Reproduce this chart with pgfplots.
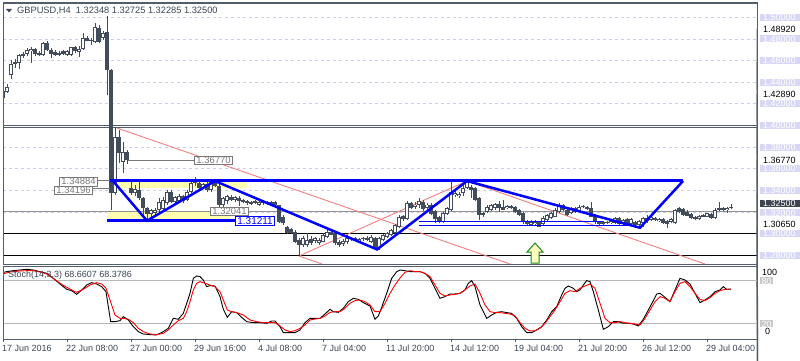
\documentclass[border=0pt]{standalone}
\usepackage{pgfplots}
\pgfplotsset{compat=1.18}
\usepackage{pgfplotstable}
\usepackage{fontspec}
\setmainfont{Liberation Sans}
\definecolor{frame}{RGB}{84,94,106}
\definecolor{candle}{RGB}{66,76,90}
\definecolor{lav}{RGB}{216,216,246}
\definecolor{lavgrid}{RGB}{205,205,240}
\definecolor{salmon}{RGB}{240,128,128}
\definecolor{paleyel}{RGB}{255,255,176}
\definecolor{txt}{RGB}{60,70,84}
\definecolor{lvl}{RGB}{185,185,185}
\definecolor{pbox}{RGB}{60,68,80}
\definecolor{lblgray}{RGB}{120,120,120}
\definecolor{arrowgreen}{RGB}{30,140,30}
\definecolor{lvlbox}{RGB}{200,200,200}
\newcommand\f{\fontsize{9}{10}\selectfont}

\pgfplotstableread{
i o h l c
0 1.4258 1.4341 1.4243 1.4319
1 1.4310 1.4380 1.4304 1.4359
2 1.4463 1.4609 1.4426 1.4570
3 1.4570 1.4615 1.4533 1.4588
4 1.4579 1.4664 1.4524 1.4649
5 1.4661 1.4676 1.4624 1.4640
6 1.4661 1.4716 1.4640 1.4701
7 1.4686 1.4725 1.4579 1.4707
8 1.4707 1.4716 1.4640 1.4661
9 1.4670 1.4686 1.4640 1.4655
10 1.4655 1.4768 1.4646 1.4762
11 1.4762 1.4783 1.4686 1.4695
12 1.4695 1.4716 1.4624 1.4661
13 1.4676 1.4695 1.4640 1.4655
14 1.4655 1.4686 1.4640 1.4670
15 1.4686 1.4695 1.4655 1.4664
16 1.4655 1.4701 1.4640 1.4686
17 1.4655 1.4722 1.4640 1.4722
18 1.4722 1.4737 1.4670 1.4686
19 1.4676 1.4731 1.4634 1.4707
20 1.4707 1.4853 1.4701 1.4808
21 1.4808 1.4823 1.4777 1.4783
22 1.4792 1.4808 1.4747 1.4777
23 1.4769 1.4945 1.4762 1.4908
24 1.4899 1.4930 1.4760 1.4775
25 1.4806 1.4869 1.4790 1.4858
26 1.4860 1.5012 1.4282 1.4513
27 1.4513 1.4520 1.3222 1.3379
28 1.3379 1.3989 1.3360 1.3897
29 1.3897 1.3958 1.3651 1.3743
30 1.3665 1.3850 1.3558 1.3758
31 1.3758 1.3770 1.3640 1.3677
32 1.3420 1.3481 1.3358 1.3373
33 1.3373 1.3450 1.3350 1.3410
34 1.3404 1.3481 1.3312 1.3327
35 1.3327 1.3342 1.3173 1.3235
36 1.3235 1.3250 1.3121 1.3180
37 1.3178 1.3230 1.3150 1.3215
38 1.3190 1.3235 1.3170 1.3220
39 1.3220 1.3327 1.3200 1.3296
40 1.3230 1.3336 1.3215 1.3310
41 1.3281 1.3404 1.3266 1.3388
42 1.3388 1.3404 1.3280 1.3296
43 1.3296 1.3350 1.3285 1.3336
44 1.3300 1.3365 1.3285 1.3350
45 1.3345 1.3360 1.3280 1.3300
46 1.3310 1.3400 1.3300 1.3388
47 1.3388 1.3497 1.3373 1.3466
48 1.3466 1.3520 1.3440 1.3480
49 1.3470 1.3490 1.3405 1.3420
50 1.3425 1.3470 1.3410 1.3455
51 1.3460 1.3475 1.3390 1.3400
52 1.3404 1.3505 1.3390 1.3490
53 1.3490 1.3500 1.3430 1.3440
54 1.3440 1.3460 1.3204 1.3265
55 1.3265 1.3340 1.3250 1.3329
56 1.3300 1.3360 1.3275 1.3345
57 1.3340 1.3355 1.3300 1.3315
58 1.3310 1.3350 1.3295 1.3335
59 1.3330 1.3345 1.3255 1.3300
60 1.3310 1.3320 1.3280 1.3290
61 1.3285 1.3315 1.3270 1.3300
62 1.3275 1.3305 1.3265 1.3290
63 1.3300 1.3312 1.3275 1.3285
64 1.3270 1.3305 1.3260 1.3295
65 1.3300 1.3310 1.3270 1.3280
66 1.3290 1.3300 1.3265 1.3275
67 1.3275 1.3300 1.3265 1.3290
68 1.3290 1.3298 1.3255 1.3265
69 1.3265 1.3270 1.3100 1.3112
70 1.3150 1.3170 1.3080 1.3096
71 1.3065 1.3075 1.2995 1.3004
72 1.3040 1.3050 1.2995 1.3004
73 1.3016 1.3030 1.2910 1.2924
74 1.2942 1.2960 1.2798 1.2896
75 1.2896 1.2980 1.2880 1.2957
76 1.2896 1.3004 1.2880 1.2942
77 1.2950 1.2975 1.2895 1.2911
78 1.2930 1.2973 1.2915 1.2957
79 1.2911 1.2960 1.2896 1.2945
80 1.2927 1.3004 1.2920 1.2988
81 1.2973 1.3035 1.2960 1.3019
82 1.3019 1.3040 1.2985 1.2990
83 1.3004 1.3019 1.2896 1.2911
84 1.2927 1.2945 1.2880 1.2896
85 1.2905 1.2950 1.2890 1.2930
86 1.2920 1.2985 1.2905 1.2960
87 1.2950 1.2970 1.2935 1.2957
88 1.2957 1.2968 1.2930 1.2940
89 1.2935 1.2965 1.2920 1.2955
90 1.2950 1.2970 1.2935 1.2960
91 1.2960 1.2975 1.2930 1.2945
92 1.2927 1.2985 1.2915 1.2973
93 1.2960 1.2970 1.2850 1.2865
94 1.2865 1.2970 1.2848 1.2957
95 1.2942 1.2995 1.2935 1.2988
96 1.2973 1.3012 1.2965 1.3004
97 1.2988 1.3045 1.2980 1.3034
98 1.3004 1.3090 1.2990 1.3081
99 1.3065 1.3173 1.3050 1.3158
100 1.3160 1.3175 1.3120 1.3135
101 1.3135 1.3300 1.3125 1.3281
102 1.3281 1.3295 1.3225 1.3240
103 1.3245 1.3290 1.3230 1.3270
104 1.3265 1.3330 1.3240 1.3300
105 1.3296 1.3310 1.3210 1.3225
106 1.3235 1.3285 1.3220 1.3270
107 1.3270 1.3280 1.3170 1.3180
108 1.3210 1.3220 1.3100 1.3135
109 1.3150 1.3160 1.3095 1.3110
110 1.3110 1.3200 1.3100 1.3189
111 1.3180 1.3250 1.3170 1.3235
112 1.3220 1.3480 1.3210 1.3389
113 1.3360 1.3400 1.3340 1.3380
114 1.3345 1.3390 1.3330 1.3370
115 1.3373 1.3456 1.3352 1.3425
116 1.3425 1.3490 1.3415 1.3481
117 1.3435 1.3450 1.3333 1.3404
118 1.3419 1.3430 1.3300 1.3311
119 1.3330 1.3342 1.3127 1.3173
120 1.3188 1.3204 1.3157 1.3173
121 1.3198 1.3265 1.3188 1.3250
122 1.3219 1.3275 1.3210 1.3265
123 1.3234 1.3281 1.3219 1.3271
124 1.3271 1.3302 1.3204 1.3234
125 1.3250 1.3311 1.3215 1.3219
126 1.3234 1.3270 1.3225 1.3259
127 1.3259 1.3270 1.3230 1.3240
128 1.3250 1.3260 1.3195 1.3204
129 1.3219 1.3230 1.3165 1.3173
130 1.3188 1.3204 1.3087 1.3111
131 1.3111 1.3125 1.3075 1.3087
132 1.3080 1.3125 1.3070 1.3111
133 1.3087 1.3125 1.3080 1.3111
134 1.3105 1.3120 1.3060 1.3065
135 1.3087 1.3160 1.3080 1.3148
136 1.3127 1.3185 1.3120 1.3173
137 1.3142 1.3200 1.3135 1.3188
138 1.3157 1.3235 1.3150 1.3219
139 1.3204 1.3280 1.3195 1.3265
140 1.3265 1.3275 1.3210 1.3220
141 1.3219 1.3230 1.3160 1.3173
142 1.3188 1.3245 1.3180 1.3234
143 1.3234 1.3245 1.3195 1.3204
144 1.3210 1.3262 1.3200 1.3250
145 1.3243 1.3265 1.3235 1.3250
146 1.3250 1.3260 1.3222 1.3230
147 1.3235 1.3290 1.3150 1.3157
148 1.3165 1.3180 1.3090 1.3105
149 1.3108 1.3120 1.3082 1.3090
150 1.3090 1.3115 1.3080 1.3105
151 1.3111 1.3120 1.3090 1.3096
152 1.3096 1.3128 1.3090 1.3117
153 1.3096 1.3150 1.3090 1.3142
154 1.3148 1.3155 1.3080 1.3087
155 1.3087 1.3135 1.3080 1.3127
156 1.3136 1.3142 1.3080 1.3087
157 1.3087 1.3145 1.3082 1.3136
158 1.3105 1.3115 1.3070 1.3080
159 1.3080 1.3125 1.3056 1.3117
160 1.3096 1.3157 1.3065 1.3142
161 1.3117 1.3173 1.3096 1.3142
162 1.3127 1.3170 1.3120 1.3157
163 1.3142 1.3157 1.3115 1.3124
164 1.3117 1.3145 1.3110 1.3136
165 1.3136 1.3145 1.3090 1.3096
166 1.3117 1.3127 1.3056 1.3087
167 1.3105 1.3145 1.3096 1.3136
168 1.3096 1.3228 1.3090 1.3219
169 1.3234 1.3250 1.3188 1.3204
170 1.3228 1.3240 1.3165 1.3173
171 1.3204 1.3215 1.3160 1.3167
172 1.3179 1.3190 1.3135 1.3142
173 1.3157 1.3165 1.3125 1.3136
174 1.3136 1.3175 1.3130 1.3167
175 1.3173 1.3180 1.3150 1.3157
176 1.3157 1.3195 1.3150 1.3188
177 1.3179 1.3190 1.3140 1.3148
178 1.3142 1.3234 1.3136 1.3219
179 1.3219 1.3296 1.3210 1.3234
180 1.3234 1.3245 1.3210 1.3219
181 1.3219 1.3250 1.3188 1.3240
182 1.32348 1.32725 1.32285 1.32500
}\candles

\tikzset{
  lbl/.style={draw=lblgray, fill=white, text=lblgray, inner xsep=2bp, inner ysep=1bp, line width=0.8bp, font=\fontsize{9.5}{10}\selectfont},
  lavlab/.style={anchor=west, fill=lav, text=white, inner xsep=3bp, inner ysep=0.3bp, text width=34bp, align=left, xshift=3bp, font=\f},
  blklab/.style={anchor=west, text=black, inner xsep=0pt, inner ysep=0.5bp, xshift=6bp, font=\f},
  rtick/.style={frame, line width=0.8bp},
}

\begin{document}
\begin{tikzpicture}[x=1bp,y=1bp,font=\f]
\useasboundingbox (0,0) rectangle (800,360);
\fill[white] (0,0) rectangle (800,360);
% ---------------- main price panel ----------------
\begin{axis}[
  at={(3bp,96bp)}, anchor=south west, scale only axis,
  width=754bp, height=261bp,
  xmin=0, xmax=188.5, ymin=1.2720, ymax=1.5132,
  xtick=\empty,
  ytick={1.28,1.30,1.32,1.34,1.36,1.38,1.40,1.42,1.44,1.46,1.48,1.50},
  yticklabels={}, major tick length=0pt,
  ymajorgrids, grid style={lavgrid, dash pattern=on 3bp off 3bp, line width=0.8bp},
  axis line style={frame},
  clip mode=individual,
]
% yellow zones
\addplot[fill=paleyel, draw=none, forget plot] coordinates {(26.75,1.34196)(61,1.34196)(61,1.34884)(26.75,1.34884)} -- cycle;
\addplot[fill=paleyel, draw=none, forget plot] coordinates {(26,1.31211)(56.75,1.31211)(56.75,1.32041)(26,1.32041)} -- cycle;
% horizontal levels
\addplot[frame, line width=1bp, forget plot] coordinates {(0,1.4003)(188.5,1.4003)};
\addplot[frame, line width=1bp, forget plot] coordinates {(0,1.3984)(188.5,1.3984)};
\addplot[lblgray!80, line width=1bp, forget plot] coordinates {(0,1.3204)(188.5,1.3204)};
\addplot[black, line width=1bp, forget plot] coordinates {(0,1.3000)(188.5,1.3000)};
\addplot[black, line width=1bp, forget plot] coordinates {(0,1.2800)(188.5,1.2800)};
% red trend lines
\addplot[salmon, line width=0.9bp, forget plot] coordinates {(28.5,1.3977)(126.75,1.2720)};
\addplot[salmon, line width=0.9bp, forget plot] coordinates {(74,1.2794)(116,1.3487)};
\addplot[salmon, line width=0.9bp, forget plot] coordinates {(116,1.3487)(175.5,1.2720)};
\addplot[salmon, line width=0.9bp, forget plot] coordinates {(74,1.2794)(79.75,1.2720)};
% candles: wicks (high-low)
\addplot[forget plot, mark=none, draw=candle, line width=1bp,
  quiver={u=0, v={\thisrow{h}-\thisrow{l}}}]
  table[x=i, y=l] {\candles};
% candles: bodies
\addplot[forget plot, mark=none, draw=candle, line width=3.8bp,
  quiver={u=0, v={max(abs(\thisrow{c}-\thisrow{o}),0.0009)}}]
  table[x=i, y expr={min(\thisrow{o},\thisrow{c})}] {\candles};
% candles: hollow bullish interior
\addplot[forget plot, mark=none, draw=white, line width=1.8bp,
  quiver={u=0, v={max(\thisrow{c}-\thisrow{o}-0.00184,0)}}]
  table[x=i, y expr={\thisrow{o}+0.00092}] {\candles};
% grey label lines
\addplot[lblgray, line width=0.9bp, forget plot] coordinates {(31.25,1.3677)(47.75,1.3677)};
\addplot[lblgray, line width=0.9bp, forget plot] coordinates {(22.5,1.3416)(26.75,1.3416)};
\addplot[lblgray, line width=0.9bp, forget plot] coordinates {(23.75,1.34884)(26.75,1.34884)};
% blue pattern lines
\addplot[blue, line width=3bp, forget plot] coordinates {(26.75,1.34884)(170,1.34884)};
\addplot[blue, line width=3bp, forget plot] coordinates {(26,1.31211)(58,1.31211)};
\addplot[blue, line width=1bp, forget plot] coordinates {(104,1.3117)(150,1.3117)};
\addplot[blue, line width=1bp, forget plot] coordinates {(104,1.3078)(157,1.3078)};
\addplot[blue, line width=2.5bp, forget plot] coordinates {(27.5,1.3487)(36,1.3120)(53,1.3487)(93.5,1.2855)(116,1.3487)(159.25,1.3055)(170,1.3487)};
% green arrow
\addplot[draw=arrowgreen, fill=yellow!25, line width=1bp, forget plot] coordinates {(133,1.2914)(135,1.2831)(134,1.2831)(134,1.2729)(132,1.2729)(132,1.2831)(131,1.2831)} -- cycle;
% in-chart price labels
\node[lbl, anchor=west] at (axis cs:47.75,1.3677) {1.36770};
\node[lbl, anchor=east] at (axis cs:22.5,1.3400) {1.34196};
\node[lbl, anchor=east] at (axis cs:23.75,1.3482) {1.34884};
\node[lbl, anchor=west] at (axis cs:51.75,1.3207) {1.32041};
\node[lbl, anchor=west, draw=blue, text=blue, font=\fontsize{10}{11}\selectfont] at (axis cs:58,1.3117) {1.31211};
% right price scale: automatic ticks
\draw[rtick] (axis cs:188.5,1.4892) -- ++(3bp,0);
\draw[rtick] (axis cs:188.5,1.4586) -- ++(3bp,0);
\draw[rtick] (axis cs:188.5,1.4289) -- ++(3bp,0);
\draw[rtick] (axis cs:188.5,1.3981) -- ++(3bp,0);
\draw[rtick] (axis cs:188.5,1.3677) -- ++(3bp,0);
\draw[rtick] (axis cs:188.5,1.3371) -- ++(3bp,0);
\draw[rtick] (axis cs:188.5,1.3065) -- ++(3bp,0);
\draw[rtick] (axis cs:188.5,1.2759) -- ++(3bp,0);
\node[blklab] at (axis cs:188.5,1.4892) {1.48920};
\node[blklab] at (axis cs:188.5,1.4289) {1.42890};
\node[blklab] at (axis cs:188.5,1.3677) {1.36770};
\node[blklab] at (axis cs:188.5,1.3088) {1.30650};
\node[lavlab, fill=pbox] at (axis cs:188.5,1.3281) {1.32500};
\node[lavlab] at (axis cs:188.5,1.50) {1.50000};
\node[lavlab] at (axis cs:188.5,1.48) {1.48000};
\node[lavlab] at (axis cs:188.5,1.46) {1.46000};
\node[lavlab] at (axis cs:188.5,1.44) {1.44000};
\node[lavlab] at (axis cs:188.5,1.42) {1.42000};
\node[lavlab] at (axis cs:188.5,1.40) {1.40000};
\node[lavlab] at (axis cs:188.5,1.38) {1.38000};
\node[lavlab] at (axis cs:188.5,1.36) {1.36000};
\node[lavlab] at (axis cs:188.5,1.34) {1.34000};
\node[lavlab] at (axis cs:188.5,1.3192) {1.32000};
\node[lavlab] at (axis cs:188.5,1.30) {1.30000};
\node[lavlab] at (axis cs:188.5,1.28) {1.28000};
\end{axis}
% ---------------- stochastic panel ----------------
\begin{axis}[
  at={(3bp,21bp)}, anchor=south west, scale only axis,
  width=754bp, height=73bp,
  xmin=0, xmax=188.5, ymin=-1, ymax=100.8,
  xtick={0,16,32,48,64,80,96,112,128,144,160,176},
  xticklabels={17 Jun 2016,22 Jun 08:00,27 Jun 00:00,29 Jun 16:00,4 Jul 08:00,7 Jul 04:00,11 Jul 20:00,14 Jul 12:00,19 Jul 04:00,21 Jul 20:00,26 Jul 12:00,29 Jul 04:00},
  xtick pos=bottom, tick align=outside, major tick length=3bp,
  xtick style={frame, line width=0.8bp},
  xticklabel style={anchor=north west, xshift=-2bp, yshift=-2bp, text=txt, font=\f, inner sep=1bp},
  ytick={20,80}, yticklabels={}, ytick style={draw=none},
  ymajorgrids, grid style={lvl, line width=1bp},
  axis line style={frame},
  clip mode=individual,
]
\addplot[black, line width=0.9bp, forget plot] coordinates {(0,91.8)(0.92,92.9)(2.58,94.3)(4.25,95.2)(5.92,96.2)(7.58,95.2)(9.25,92.9)(10.92,90.6)(12.58,83.6)(14.25,75.7)(15.92,68.3)(17.17,66.4)(18.42,61.3)(19.67,67.4)(20.92,74.3)(22.17,77.6)(23.42,75.7)(24.67,72.0)(25.75,65.0)(26.92,23.2)(28.0,23.2)(29.25,24.6)(30.08,30.2)(31.33,25.5)(32.58,16.2)(33.83,9.3)(35.08,6.0)(36.75,5.1)(38.42,4.6)(40.08,9.3)(41.33,13.9)(42.58,27.9)(43.83,26.5)(45.08,34.8)(45.92,48.8)(46.75,62.7)(47.58,83.6)(48.42,86.9)(49.25,86.0)(50.08,81.3)(50.92,72.0)(51.75,73.4)(53.0,72.9)(54.25,58.1)(55.08,40.4)(56.08,29.2)(57.17,37.1)(58.42,35.8)(59.67,29.2)(60.92,23.2)(62.58,21.8)(64.25,21.8)(65.92,20.9)(67.17,24.1)(68.0,24.1)(69.25,16.2)(70.08,7.9)(71.75,7.9)(73.0,7.9)(74.25,11.6)(75.5,21.8)(76.75,27.8)(78.0,27.8)(79.25,27.8)(80.5,33.9)(81.75,40.4)(82.58,37.1)(83.83,36.2)(85.08,41.8)(86.33,51.1)(87.58,55.7)(88.83,54.3)(90.08,49.7)(91.75,45.0)(93.0,26.5)(93.83,31.1)(94.67,43.2)(95.92,62.7)(97.17,83.6)(98.42,92.9)(99.25,95.2)(100.5,94.3)(101.75,92.9)(103.0,92.9)(104.25,92.9)(105.5,90.6)(106.75,83.6)(108.0,69.7)(109.25,55.7)(110.5,58.1)(111.75,61.8)(113.0,61.8)(114.25,62.7)(115.5,67.4)(116.33,76.7)(117.17,80.4)(118.0,72.0)(119.25,46.4)(120.92,27.8)(122.17,32.5)(123.42,36.2)(124.67,37.1)(125.92,35.8)(127.17,34.8)(128.42,27.8)(129.67,16.2)(130.92,7.9)(132.17,7.9)(133.42,11.6)(134.67,16.2)(135.92,25.5)(137.17,37.1)(138.42,44.1)(139.67,60.4)(140.5,69.7)(141.33,72.9)(142.58,69.7)(143.42,65.0)(144.25,67.4)(145.08,74.3)(145.92,80.4)(146.75,79.0)(147.58,65.0)(148.83,39.5)(150.08,12.5)(151.33,16.2)(152.58,23.2)(153.83,23.2)(155.08,20.9)(156.33,20.9)(157.58,19.9)(158.83,17.2)(160.08,26.5)(161.33,39.5)(162.58,52.5)(163.42,61.8)(164.25,62.7)(165.5,57.1)(166.75,51.1)(168.0,67.4)(169.25,83.6)(170.5,81.3)(171.75,75.7)(173.0,62.7)(174.25,49.7)(175.5,53.4)(176.75,58.1)(178.0,65.0)(179.25,67.4)(180.08,72.0)(180.92,68.3)(182,68.66)};
\addplot[red, line width=0.9bp, forget plot] coordinates {(0,89.8)(1.75,92.4)(4.25,93.9)(5.92,94.3)(7.58,94.3)(9.25,92.4)(10.92,89.7)(12.58,83.6)(14.25,76.7)(15.92,71.1)(17.17,67.4)(18.42,64.1)(20.08,68.3)(21.75,74.3)(23.42,77.6)(24.67,75.7)(25.75,69.7)(26.75,53.4)(28.0,32.5)(29.25,27.8)(30.08,27.8)(31.33,26.5)(32.58,21.8)(33.83,13.9)(35.08,9.3)(36.75,6.0)(38.42,5.1)(40.08,6.9)(41.33,11.6)(42.58,18.6)(43.83,24.6)(45.08,27.8)(45.92,37.1)(46.75,51.1)(47.58,67.4)(48.42,76.7)(49.25,79.0)(50.5,76.7)(51.75,74.3)(53.0,72.0)(54.25,65.0)(55.08,53.4)(56.08,39.5)(57.17,37.1)(58.42,35.8)(60.08,32.5)(61.75,25.5)(63.42,23.2)(65.08,21.8)(66.75,21.8)(68.0,21.8)(69.25,17.2)(70.5,11.6)(71.75,9.3)(73.0,10.6)(74.25,13.9)(75.5,18.6)(76.75,25.5)(78.0,26.9)(79.25,27.8)(80.5,31.1)(81.75,36.2)(83.0,37.1)(84.25,37.1)(85.5,41.8)(86.75,48.8)(88.0,52.5)(89.25,53.4)(90.5,51.1)(91.75,46.4)(93.0,37.1)(94.25,37.1)(95.5,48.8)(96.75,62.7)(98.0,74.3)(99.25,84.0)(100.5,92.0)(101.75,94.3)(103.0,92.9)(104.25,92.9)(105.5,90.6)(106.75,86.0)(108.0,74.3)(109.25,62.7)(110.5,59.0)(111.75,60.4)(113.0,61.3)(114.25,62.7)(115.5,67.4)(116.75,73.0)(118.0,75.7)(119.25,62.7)(120.5,46.4)(121.75,37.1)(123.0,35.8)(124.25,35.8)(125.5,34.8)(126.75,33.9)(128.0,31.1)(129.25,21.8)(130.5,13.9)(131.75,10.2)(133.0,10.6)(134.25,13.9)(135.5,20.9)(136.75,30.2)(138.0,39.5)(139.25,51.1)(140.5,62.7)(141.75,66.4)(143.0,65.0)(144.25,69.7)(145.5,73.0)(146.75,75.7)(148.0,69.7)(149.25,48.8)(150.5,27.8)(151.75,21.8)(153.0,21.8)(154.25,23.2)(155.5,21.8)(156.75,20.9)(158.0,19.9)(159.25,18.5)(160.5,27.8)(161.75,39.5)(163.0,51.1)(164.25,58.1)(165.5,55.7)(166.75,51.1)(168.0,65.0)(169.25,76.7)(170.5,79.0)(171.75,72.0)(173.0,62.7)(174.25,54.3)(175.5,52.5)(176.75,56.7)(178.0,62.7)(179.25,66.4)(180.5,68.3)(182,68.38)};
\node[anchor=west, text=txt, font=\f, inner sep=0pt] at (axis cs:1.25,88) {Stoch(14,3,3) 68.6607 68.3786};
\node[anchor=west, text=black, font=\f, inner sep=0pt, xshift=5bp] at (axis cs:188.5,92) {100};
\node[anchor=west, fill=lvlbox, text=white, font=\f, inner xsep=1.5bp, inner ysep=0.3bp, xshift=3bp] at (axis cs:188.5,80) {80};
\node[anchor=west, fill=lvlbox, text=white, font=\f, inner xsep=1.5bp, inner ysep=0.3bp, xshift=3bp] at (axis cs:188.5,20) {20};
\node[anchor=west, text=black, font=\f, inner sep=0pt, xshift=8bp] at (axis cs:188.5,9) {0};
\end{axis}
% frames and title
\draw[frame, line width=1bp] (3,96) rectangle (757,357);
\draw[frame, line width=1bp] (3,21) rectangle (757,94);
\fill[txt] (6,351) -- (12,351) -- (9,347.5) -- cycle;
\node[anchor=west, text=txt, font=\fontsize{9.3}{10}\selectfont, inner sep=0pt] at (17,349.5) {GBPUSD,H4\ \ 1.32348 1.32725 1.32285 1.32500};
\end{tikzpicture}
\end{document}
